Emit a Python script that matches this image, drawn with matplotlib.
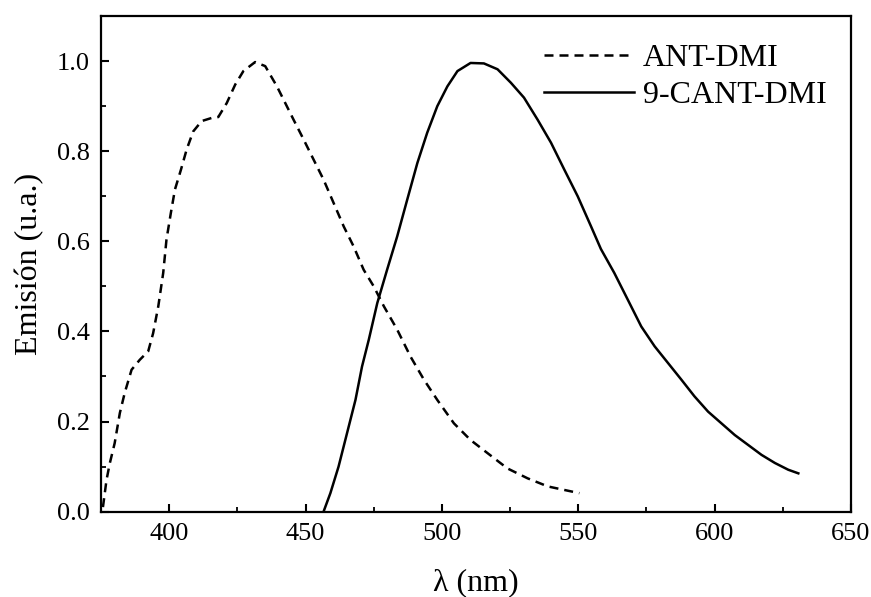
import matplotlib
matplotlib.use("Agg")
import matplotlib.pyplot as plt
from matplotlib.ticker import MultipleLocator

plt.rcParams['font.family'] = ['Liberation Serif', 'DejaVu Serif']

# Espectro ANT-DMI (línea discontinua)
ant_x = [375.7, 377.0, 378.2, 380.0, 381.9, 383.7, 386.2, 389.2, 392.3, 394.1, 396.0,
         397.8, 399.0, 400.6, 402.1, 404.3, 406.4, 408.8, 411.9, 415.6, 418.0, 421.1,
         424.2, 427.2, 431.5, 435.2, 439.5, 441.9, 445.6, 449.3, 452.9, 456.6, 460.3,
         464.0, 467.6, 471.3, 475.0, 478.7, 483.6, 488.5, 493.4, 498.3, 504.4, 510.5,
         516.7, 524.0, 531.4, 538.8, 550.4]
ant_y = [0.01, 0.07, 0.107, 0.152, 0.219, 0.264, 0.315, 0.337, 0.356, 0.396, 0.456,
         0.53, 0.604, 0.663, 0.715, 0.759, 0.804, 0.844, 0.867, 0.874, 0.876, 0.907,
         0.948, 0.978, 0.998, 0.989, 0.944, 0.915, 0.870, 0.826, 0.782, 0.737, 0.685,
         0.633, 0.589, 0.537, 0.50, 0.456, 0.404, 0.344, 0.293, 0.248, 0.196, 0.159,
         0.13, 0.096, 0.074, 0.056, 0.041]

# Espectro 9-CANT-DMI (línea continua)
cant_x = [456.6, 459.1, 462.1, 465.2, 468.3, 470.7, 473.2, 476.3, 479.9, 483.6, 487.3,
          491.0, 494.6, 498.3, 502.0, 505.7, 510.5, 515.4, 520.4, 525.3, 530.1, 535.1,
          540.0, 544.9, 549.8, 554.7, 558.3, 563.2, 568.2, 573.1, 578.0, 582.9, 587.8,
          592.6, 597.6, 602.5, 607.4, 612.3, 617.2, 622.1, 627.0, 630.7]
cant_y = [0.0, 0.041, 0.10, 0.174, 0.248, 0.322, 0.382, 0.463, 0.537, 0.611, 0.693,
          0.774, 0.841, 0.90, 0.944, 0.978, 0.996, 0.995, 0.982, 0.952, 0.919, 0.870,
          0.819, 0.759, 0.70, 0.633, 0.583, 0.530, 0.470, 0.411, 0.367, 0.330, 0.293,
          0.256, 0.222, 0.196, 0.170, 0.148, 0.126, 0.108, 0.093, 0.085]

fig = plt.figure(figsize=(8.71, 5.97), dpi=100)
ax = fig.add_axes([0.116, 0.143, 0.861, 0.830])

ax.plot(ant_x, ant_y, color='black', lw=1.8, linestyle=(0, (3.6, 2.4)), label='ANT-DMI')
ax.plot(cant_x, cant_y, color='black', lw=1.8, label='9-CANT-DMI')

ax.set_xlim(375, 650)
ax.set_ylim(0, 1.1)
ax.xaxis.set_major_locator(MultipleLocator(50))
ax.xaxis.set_minor_locator(MultipleLocator(25))
ax.yaxis.set_major_locator(MultipleLocator(0.2))
ax.yaxis.set_minor_locator(MultipleLocator(0.1))
ax.xaxis.set_major_formatter(plt.FuncFormatter(lambda v, p: '%d' % v if v >= 400 else ''))
ax.yaxis.set_major_formatter(plt.FuncFormatter(lambda v, p: '%.1f' % v))
ax.tick_params(which='major', direction='in', length=6, width=1.5, labelsize=19, pad=8)
ax.tick_params(which='minor', direction='in', length=3.5, width=1.3)
for s in ax.spines.values():
    s.set_linewidth(1.6)

ax.set_xlabel('λ (nm)', fontsize=23, labelpad=17)
ax.set_ylabel('Emisión (u.a.)', fontsize=23, labelpad=9)

ax.legend(loc='upper right', bbox_to_anchor=(0.968, 0.945), frameon=False, fontsize=23,
          handlelength=2.8, handletextpad=0.3, labelspacing=0.26,
          borderaxespad=0, borderpad=0)

fig.savefig('out.png', dpi=100)
